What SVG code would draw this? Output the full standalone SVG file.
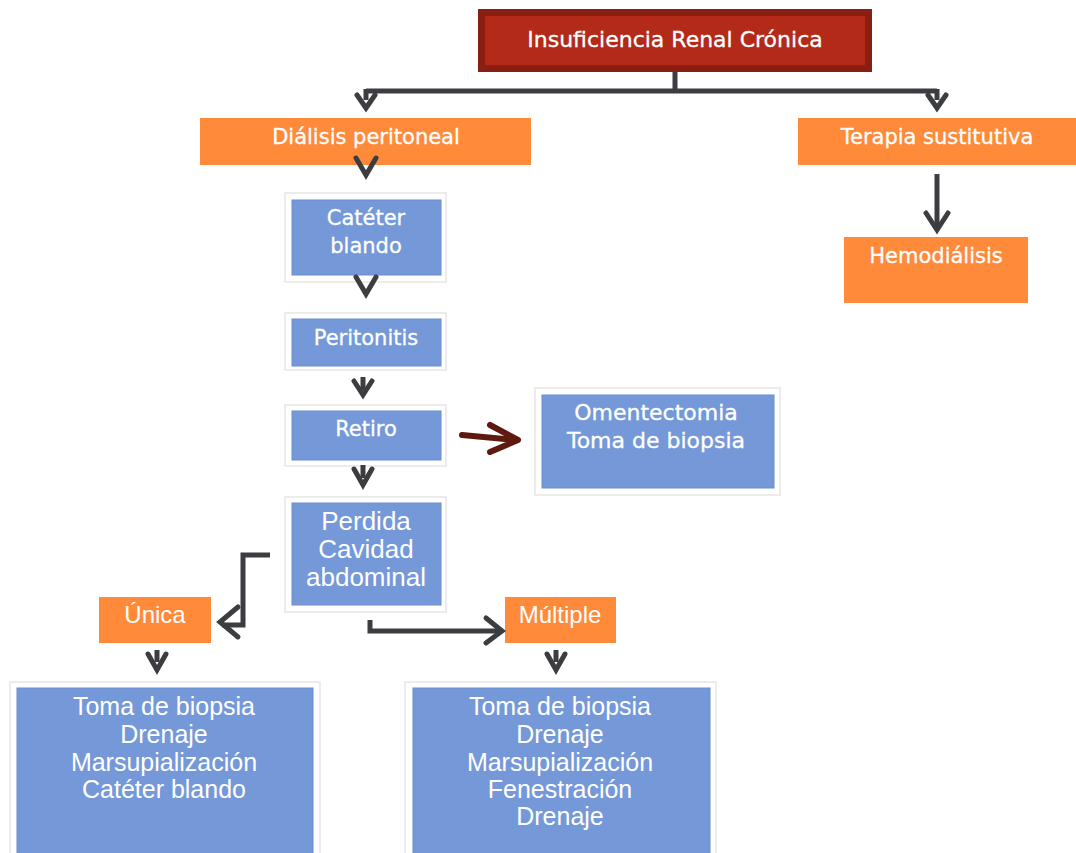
<svg xmlns="http://www.w3.org/2000/svg" width="1076" height="853" viewBox="0 0 1076 853">
<style>
.t{font-family:"DejaVu Sans","Liberation Sans",sans-serif;fill:#fff;text-anchor:middle;font-size:21px;stroke:#fff;stroke-width:0.3}
.b{font-family:"Liberation Sans",Arial,sans-serif;fill:#fff;text-anchor:middle;font-size:25px}
.orange{fill:#FF8A3A}
.frame{fill:#fff;stroke:#e6e6e6;stroke-width:1.5}
.blue{fill:#7598D8;stroke:#6A8DCF;stroke-width:1}
.ln{fill:none;stroke:#3C3D40;stroke-width:5;stroke-linecap:butt;stroke-linejoin:miter}
.ch{fill:none;stroke:#3C3D40;stroke-width:5;stroke-linecap:round;stroke-linejoin:miter}
</style>
<g id="root">
<rect x="478" y="9" width="394" height="63" fill="#8A1E12"/>
<rect x="485" y="16" width="380" height="49" fill="#B32B18"/>
<text class="t" x="675" y="47" style="font-size:22px">Insuficiencia Renal Crónica</text>
</g>
<g id="dialisis">
<rect class="orange" x="200" y="118" width="331" height="47"/>
<text class="t" x="366" y="144">Diálisis peritoneal</text>
</g>
<g id="terapia">
<rect class="orange" x="798" y="118" width="278" height="47"/>
<text class="t" x="937" y="144">Terapia sustitutiva</text>
</g>
<g id="hemodialisis">
<rect class="orange" x="844" y="237" width="184" height="66"/>
<text class="t" x="936" y="263">Hemodiálisis</text>
</g>
<g id="cateter">
<rect class="frame" x="285" y="193" width="161" height="89"/>
<rect class="blue" x="292" y="200" width="149" height="75"/>
<text class="t" x="366" y="225">Catéter</text>
<text class="t" x="366" y="253">blando</text>
</g>
<g id="peritonitis">
<rect class="frame" x="285" y="313" width="161" height="57"/>
<rect class="blue" x="292" y="319" width="149" height="47"/>
<text class="t" x="366" y="345">Peritonitis</text>
</g>
<g id="retiro">
<rect class="frame" x="285" y="405" width="161" height="61"/>
<rect class="blue" x="292" y="411" width="149" height="49"/>
<text class="t" x="366" y="436">Retiro</text>
</g>
<g id="omentectomia">
<rect class="frame" x="535" y="388" width="245" height="107"/>
<rect class="blue" x="542" y="395" width="232" height="93"/>
<text class="t" x="656" y="420" style="font-size:22px">Omentectomia</text>
<text class="t" x="656" y="448" style="font-size:22px">Toma de biopsia</text>
</g>
<g id="perdida">
<rect class="frame" x="285" y="497" width="161" height="115"/>
<rect class="blue" x="292" y="503" width="149" height="102"/>
<text class="b" x="366" y="530" style="font-size:26px">Perdida</text>
<text class="b" x="366" y="558" style="font-size:26px">Cavidad</text>
<text class="b" x="366" y="586" style="font-size:26px">abdominal</text>
</g>
<g id="unica">
<rect class="orange" x="99" y="597" width="112" height="46"/>
<text class="b" x="155" y="623" style="font-size:24px">Única</text>
</g>
<g id="multiple">
<rect class="orange" x="505" y="597" width="111" height="46"/>
<text class="b" x="560" y="623" style="font-size:24px">Múltiple</text>
</g>
<g id="unica-detalle">
<rect class="frame" x="10" y="682" width="310" height="180"/>
<rect class="blue" x="17" y="688" width="296" height="175"/>
<text class="b" x="164" y="715">Toma de biopsia</text>
<text class="b" x="164" y="743">Drenaje</text>
<text class="b" x="164" y="771">Marsupialización</text>
<text class="b" x="164" y="798">Catéter blando</text>
</g>
<g id="multiple-detalle">
<rect class="frame" x="405" y="682" width="311" height="180"/>
<rect class="blue" x="413" y="688" width="297" height="175"/>
<text class="b" x="560" y="715">Toma de biopsia</text>
<text class="b" x="560" y="743">Drenaje</text>
<text class="b" x="560" y="771">Marsupialización</text>
<text class="b" x="560" y="798">Fenestración</text>
<text class="b" x="560" y="825">Drenaje</text>
</g>
<g id="connectors">
<path class="ln" d="M675 72 V91 M366 91 H937 M366 89 V100 M937 89 V100"/>
<path class="ch" d="M357 95 L366 108 L375 95"/>
<path class="ch" d="M928 95 L937 108 L946 95"/>
<path class="ch" d="M356 158 L366 175 L376 158"/>
<path class="ln" d="M937 174 V228"/>
<path class="ch" d="M926 213 L937 230 L948 213"/>
<path class="ch" d="M356 277 L366 294 L376 277"/>
<path class="ln" d="M363 377 V390"/>
<path class="ch" d="M354 381 L363 395 L372 381"/>
<path class="ln" d="M363 465 V478"/>
<path class="ch" d="M354 469 L363 485 L372 469"/>
<path d="M462 435 L516 440 M490 425 L518 440 L490 452" fill="none" stroke="#5E1A0E" stroke-width="6" stroke-linecap="round" stroke-linejoin="round"/>
<path class="ln" d="M270 555 H243 V625 H222"/>
<path class="ch" d="M238 607 L220 622 L238 637"/>
<path class="ln" d="M370 620 V631 H500"/>
<path class="ch" d="M486 618 L502 631 L486 643"/>
<path class="ln" d="M157 650 V662"/>
<path class="ch" d="M148 654 L157 670 L166 654"/>
<path class="ln" d="M556 650 V662"/>
<path class="ch" d="M547 654 L556 670 L565 654"/>
</g>
</svg>
